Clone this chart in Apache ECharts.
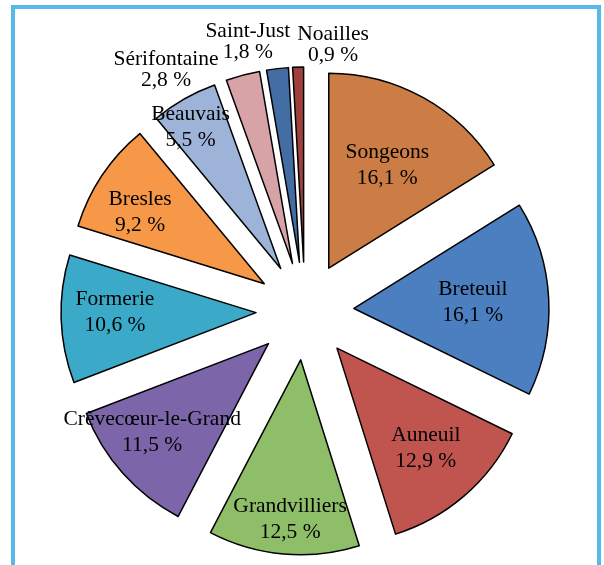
<!DOCTYPE html>
<html>
<head>
<meta charset="utf-8">
<script src="https://cdn.jsdelivr.net/npm/echarts@6/dist/echarts.min.js"></script>
<style>
  html, body { margin: 0; padding: 0; background: #fff; }
  #chart { width: 604px; height: 565px; }
</style>
</head>
<body>
<div id="chart"></div>
<script>
// Share of each locality (%), clockwise from 12 o'clock
const communes = ['Songeons', 'Breteuil', 'Auneuil', 'Grandvilliers', 'Crèvecœur-le-Grand',
  'Formerie', 'Bresles', 'Beauvais', 'Sérifontaine', 'Saint-Just', 'Noailles'];
const shares = [16.1, 16.1, 12.9, 12.5, 11.5, 10.6, 9.2, 5.5, 2.8, 1.8, 0.9];
const sliceColors = ['#cb7d45', '#4b7fc0', '#c0544f', '#8fbe69', '#7c66a9',
  '#3aaac8', '#f79748', '#9db3d8', '#d7a3a6', '#446ea3', '#a0403d'];

// Label placement around the pie centre: [distance px, angle in degrees clockwise from 12 o'clock]
const labelPolar = [[167, 29.5], [168, 86.9], [183, 138.7], [208.5, 184.1], [195, 231.6],
  [190, 269.7], [192, 300.8], [216, 328.0], [278, 330.0], [275, 348.0], [268, 6.0]];

const pieCenter = [305, 311];
const pieRadius = 195;
const fmt = v => v.toFixed(1).replace('.', ',') + ' %';
const outsideSet = new Set(['Sérifontaine', 'Saint-Just', 'Noailles']);

const chart = echarts.init(document.getElementById('chart'), null, { renderer: 'canvas' });

const common = {
  type: 'pie',
  center: pieCenter,
  radius: [0, pieRadius],
  startAngle: 90,
  clockwise: true,
  avoidLabelOverlap: false,
  emphasis: { disabled: true }
};

chart.setOption({
  animation: false,
  backgroundColor: '#ffffff',
  graphic: [
    { type: 'rect', left: 11, top: 5, shape: { width: 4, height: 570 }, style: { fill: '#56b9ea' }, silent: true },
    { type: 'rect', left: 11, top: 5, shape: { width: 590, height: 4 }, style: { fill: '#56b9ea' }, silent: true },
    { type: 'rect', left: 597, top: 5, shape: { width: 4, height: 570 }, style: { fill: '#56b9ea' }, silent: true }
  ],
  series: [
    // exploded slices
    Object.assign({}, common, {
      name: 'slices',
      selectedMode: 'multiple',
      selectedOffset: 49,
      itemStyle: { borderColor: '#000', borderWidth: 1.5 },
      label: { show: false },
      labelLine: { show: false },
      data: communes.map((name, i) => ({
        name,
        value: shares[i],
        selected: true,
        itemStyle: { color: sliceColors[i] }
      }))
    }),
    // labels layer (same angles, transparent sectors)
    Object.assign({}, common, {
      name: 'labels',
      silent: true,
      z: 3,
      itemStyle: { color: 'rgba(0,0,0,0)', borderWidth: 0 },
      label: {
        position: 'outside',
        overflow: 'none',
        fontFamily: 'Liberation Serif',
        fontSize: 21.5,
        lineHeight: 26,
        color: '#000',
        align: 'center',
        formatter: p => p.name + '\n' + fmt(p.value)
      },
      labelLine: { show: false },
      labelLayout: p => {
        const [dist, deg] = labelPolar[p.dataIndex];
        const a = deg * Math.PI / 180;
        return {
          x: pieCenter[0] + dist * Math.sin(a),
          y: pieCenter[1] - dist * Math.cos(a),
          align: 'center',
          verticalAlign: 'middle',
          hideOverlap: false
        };
      },
      data: communes.map((name, i) => ({
        name,
        value: shares[i],
        label: outsideSet.has(name) ? { lineHeight: 21 } : {}
      }))
    })
  ]
});
</script>
</body>
</html>
